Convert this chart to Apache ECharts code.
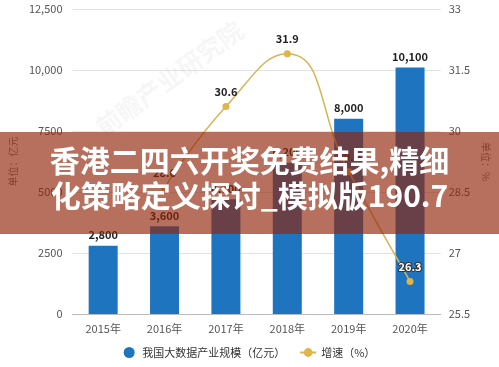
<!DOCTYPE html>
<html>
<head>
<meta charset="utf-8">
<script src="https://cdn.jsdelivr.net/npm/echarts@6/dist/echarts.min.js"></script>
<style>
html,body{margin:0;padding:0;background:#fff;}
#c{width:499px;height:367px;}
</style>
</head>
<body>
<div id="c"></div>
<script>
const categories = ['2015年','2016年','2017年','2018年','2019年','2020年'];
const scaleValues = [2800, 3600, 4700, 6200, 8000, 10100];
const growthValues = [null, 28.6, 30.6, 31.9, 29.0, 26.3];
const seriesNames = ['我国大数据产业规模（亿元）', '增速（%）'];
const bannerLines = ['香港二四六开奖免费结果,精细', '化策略定义探讨_模拟版190.7'];
const watermarkText = '前瞻产业研究院';

const chart = echarts.init(document.getElementById('c'), null, {renderer: 'canvas'});
const fontFam = '"Noto Sans CJK SC","Noto Sans",sans-serif';

chart.setOption({
  animation: false,
  textStyle: {fontFamily: fontFam},
  grid: {left: 67, right: 55, top: 9, bottom: 53},
  legend: {
    bottom: 4,
    left: 'center',
    itemGap: 14,
    itemWidth: 16,
    itemHeight: 11,
    textStyle: {color: '#333', fontSize: 11, fontFamily: fontFam},
    data: [
      {name: seriesNames[0], icon: 'circle'},
      {name: seriesNames[1]}
    ]
  },
  xAxis: {
    type: 'category',
    data: categories,
    axisLine: {lineStyle: {color: '#bbb'}},
    axisTick: {show: false},
    axisLabel: {color: '#555', fontSize: 11, margin: 9}
  },
  yAxis: [
    {
      type: 'value', min: 0, max: 12500, interval: 2500,
      name: '单位：亿元', nameLocation: 'middle', nameGap: 52, nameRotate: 90,
      nameTextStyle: {color: '#777', fontSize: 10},
      axisLine: {show: false}, axisTick: {show: false},
      axisLabel: {color: '#555', fontSize: 11, margin: 10,
        formatter: v => v >= 10000 ? v.toLocaleString('en-US') : String(v)},
      splitLine: {lineStyle: {color: '#e3e3e3'}}
    },
    {
      type: 'value', min: 25.5, max: 33, interval: 1.5,
      name: '单位：%', nameLocation: 'middle', nameGap: 39, nameRotate: -90,
      nameTextStyle: {color: '#777', fontSize: 10},
      axisLine: {show: false}, axisTick: {show: false},
      axisLabel: {color: '#555', fontSize: 11, margin: 8},
      splitLine: {show: false}
    }
  ],
  series: [
    {
      name: seriesNames[0],
      type: 'bar',
      barWidth: 29,
      data: scaleValues,
      itemStyle: {color: '#1f74bf'},
      label: {show: true, position: 'top', color: '#222', fontWeight: 'bold', fontSize: 11,
        distance: 5, formatter: p => p.value.toLocaleString('en-US')}
    },
    {
      name: seriesNames[1],
      type: 'line',
      yAxisIndex: 1,
      smooth: true,
      connectNulls: false,
      data: growthValues.map((v, i) => i === 5 ? {value: v, label: {color: '#fff', textBorderColor: '#333', textBorderWidth: 2, position: 'top', distance: 6}} : v),
      symbol: 'circle',
      symbolSize: 7,
      lineStyle: {color: '#d3b654', width: 1.5},
      itemStyle: {color: '#e0b445'},
      label: {show: true, position: 'top', color: '#222', fontWeight: 'bold', fontSize: 11, distance: 6,
        formatter: p => p.value.toFixed(1)}
    }
  ],
  graphic: [
    {
      type: 'text', x: 106, y: 140, rotation: Math.PI * 36 / 180, z: 1,
      style: {text: watermarkText, fill: 'rgba(180,180,180,0.12)', font: 'bold 25px ' + fontFam, textVerticalAlign: 'bottom'}
    },
    {
      type: 'rect', left: 0, top: 132, z: 100,
      shape: {width: 499, height: 102},
      style: {fill: 'rgba(146,38,10,0.66)'}
    },
    {
      type: 'text', left: 'center', top: 146, z: 101,
      style: {text: bannerLines[0], fill: '#fff', font: 'bold 30px "Noto Sans CJK SC"', textAlign: 'center'}
    },
    {
      type: 'text', left: 'center', top: 181, z: 101,
      style: {text: bannerLines[1], fill: '#fff', font: 'bold 30px "Noto Sans CJK SC"', textAlign: 'center'}
    }
  ]
});
</script>
</body>
</html>
